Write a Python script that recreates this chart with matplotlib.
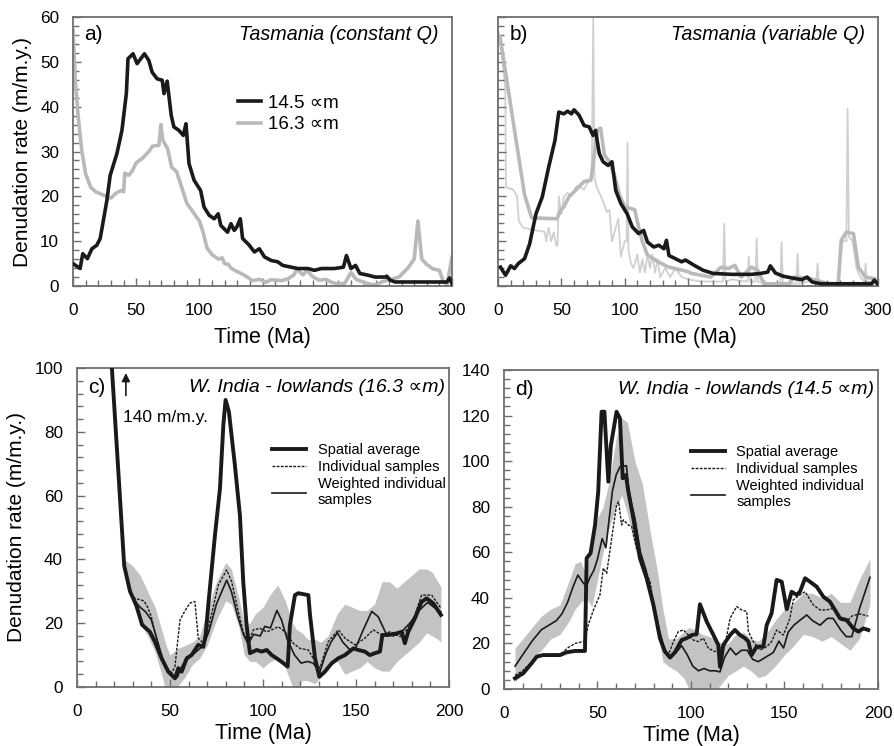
import numpy as np
from matplotlib import pyplot as plt
from matplotlib.ticker import MultipleLocator

plt.rcParams['font.family'] = ['Liberation Sans', 'DejaVu Sans']

# --- a) Tasmania, constant Q ---
a_t_145 = [0, 5.6, 7.7, 11.4, 14.9, 18.8, 21.5, 24, 26.8, 29.4, 34.7, 38.7, 42.2, 43.5, 47.5,
           50.7, 56.5, 60, 62.6, 66.6, 70.6, 72, 74.5, 77.7, 79.8, 83.8, 87.3, 89.4, 91.8, 95.8,
           101, 103.7, 107.7, 111.7, 114.9, 117, 122.3, 125, 127.6, 129.7, 132.4, 134.2, 139.5,
           143.5, 147.5, 151.5, 156.8, 162, 166, 172.7, 178, 186, 191, 196.5, 207, 214, 216.4,
           220, 223.6, 227, 233.7, 239, 247, 248.3, 251, 255, 273.5, 296, 298, 300]
a_v_145 = [5.0, 3.9, 7.2, 6.1, 8.3, 9.1, 10.6, 14.6, 19.1, 24.7, 29.5, 34.7, 42.9, 50.7, 51.8,
           49.6, 51.8, 50.3, 47.7, 46.2, 45.9, 42.9, 45.7, 38.1, 35.5, 34.7, 33.6, 36.2, 27.3, 23.6,
           21.3, 17.6, 15.8, 15.0, 16.1, 13.5, 12.0, 13.9, 12.4, 13.2, 15.0, 10.6, 9.1,
           7.6, 8.3, 6.5, 5.7, 5.4, 4.6, 4.2, 3.9, 3.9, 3.5, 3.9, 3.9, 4.2, 6.8,
           3.9, 4.6, 2.8, 2.4, 2.0, 2.0, 2.2, 1.3, 0.9, 0.9, 0.9, 1.8, 0.5]

a_t_163 = [0, 2, 4, 7, 10, 14, 18, 24, 30, 34, 38, 40, 41, 44, 47, 50, 55, 60, 63, 68, 69.5, 71,
           75, 78, 82, 86, 90, 95, 100, 103, 106, 110, 115, 118, 120, 123, 125, 128, 133, 138,
           142, 148, 152, 157, 165, 170, 175, 177, 182, 185, 190, 195, 200, 205, 210, 215, 220,
           224, 230, 237, 240, 245, 252, 258, 265, 270, 273, 276, 280, 285, 290, 293, 296, 300]
a_v_163 = [57, 45, 38, 30, 25, 22, 21, 20.3, 19.6, 20.7, 21.3, 21.0, 25.2, 24.7, 25.7, 27.5, 28.5,
           30.0, 31.2, 31.4, 36.0, 32.6, 30.5, 26.5, 25.5, 22.0, 18.5, 16.5, 14.5, 12.0, 8.5, 7.0,
           6.0, 6.3, 5.0, 4.8, 4.0, 3.5, 2.8, 2.0, 1.2, 1.5, 0.8, 1.4, 1.2, 1.6, 2.5, 3.8, 2.5,
           3.5, 2.0, 1.3, 1.5, 0.8, 0.5, 0.6, 3.0, 1.5, 0.8, 0.3, 0.3, 1.0, 1.5, 2.0, 4.0, 6.0,
           14.5, 6.0, 4.8, 3.8, 3.5, 1.0, 0.3, 6.5]

# --- b) Tasmania, variable Q ---
b_t_145 = [2, 6, 10, 13, 16, 21, 25, 30, 35, 40, 45, 48, 52, 55, 58, 60, 64, 68, 72, 75, 77, 80,
           83, 87, 90, 93, 97, 102, 106, 111, 115, 118, 123, 127, 131, 133, 135, 140, 145, 148,
           155, 162, 170, 185, 200, 207, 213, 215, 219, 225, 232, 240, 244, 248, 255, 295, 297, 300]
b_v_145 = [4.2, 2.4, 4.5, 3.9, 5.0, 6.1, 9.4, 16.1, 19.9, 26.5, 32.5, 38.8, 38.4, 39.0, 38.4, 39.3,
           38.1, 35.8, 35.5, 33.6, 34.7, 29.5, 27.7, 26.9, 27.7, 21.3, 18.4, 16.1, 13.2, 11.7, 12.4,
           9.8, 8.7, 9.1, 8.3, 10.2, 6.8, 6.1, 5.4, 5.8, 4.6, 3.5, 2.8, 2.6, 2.6, 2.8, 3.1, 4.5,
           2.9, 2.2, 1.8, 1.4, 2.0, 0.9, 0.5, 0.5, 1.3, 0.4]

b_t_163 = [1.6, 21, 26.6, 46.5, 49, 52, 56, 60, 62.6, 68, 73.4, 78.6, 81, 84, 88, 92, 96, 100, 108,
           110, 114, 118, 126, 134, 150, 153, 168, 176, 182, 187, 192, 200, 205, 210, 230, 234,
           247, 261, 268.6, 271, 275, 280.6, 284.5, 290, 297.7, 300]
b_v_163 = [55.6, 20.3, 15.2, 15.0, 16.6, 17.7, 19.9, 21.0, 21.8, 23.3, 23.6, 34.8, 35.2, 29.2, 27.7,
           24.7, 20.3, 17.7, 17.0, 14.4, 9.9, 6.9, 5.5, 4.3, 3.2, 2.8, 2.0, 4.2, 3.9, 4.6, 2.0,
           4.2, 3.5, 0.5, 0.5, 2.0, 1.6, 0.5, 0.5, 10.2, 12.0, 11.7, 4.2, 2.0, 1.6, 0.5]

b_t_raw = [0, 2, 5, 5.8, 6.3, 12, 15, 16.5, 20, 30, 35, 37, 38, 40, 42, 44, 46, 47, 48, 50, 52, 55,
           58, 62, 65, 68, 72, 74, 75.2, 76.2, 78, 82, 86, 88, 90, 92, 95, 97, 100, 101.5, 102.3,
           103, 105, 107, 110, 112, 114, 116, 118, 120, 122, 124, 126, 128, 132, 136, 140, 145,
           150, 160, 170, 177.6, 178.6, 179.6, 185, 190, 197, 198, 199, 203.2, 204.2, 205.2, 210,
           215, 222.9, 223.9, 224.9, 230, 235.5, 236.5, 237.5, 245, 251.3, 252.3, 253.3, 260,
           268, 270, 272, 275, 276, 277, 280, 283, 286, 289.2, 290.2, 291.2, 295, 300]
b_v_raw = [57, 55, 46, 44, 22, 21.5, 20, 14.4, 13, 12.4, 12.2, 12, 10, 13, 10, 12, 9, 9, 20, 16, 20,
           20.8, 20, 22.3, 22, 21.5, 23.8, 24, 60, 24, 22, 19.5, 16.5, 17, 10, 12, 15, 6.5, 10, 10,
           32, 8, 5, 4, 7, 3, 6, 3, 7, 4, 7, 3, 6, 2, 4, 2, 4, 2, 1.5, 1, 1, 1, 13.9, 1, 1.5, 1.2,
           1, 6.5, 1, 1, 10.6, 1, 0.5, 0.5, 0.5, 9.8, 0.5, 0.5, 0.5, 7.2, 0.5, 1, 1, 5, 1, 0.8,
           0.5, 5, 10, 10, 39.5, 11, 10, 4, 2, 1, 5, 1, 1, 0.5]

# --- c) W. India lowlands 16.3 um ---
c_t_sp = [14.5, 25.4, 28.5, 32, 35, 39.2, 41.9, 45.5, 49.1, 52.7, 54.5, 56.3, 59, 61.6, 65.2, 67.9,
          69.2, 70.6, 74.2, 76.9, 78.7, 79.9, 81.7, 84.9, 87.6, 89.4, 91.2, 93, 96.6, 99.3, 102,
          104.7, 107.3, 110, 113.3, 114.5, 117.2, 119, 124.4, 125.3, 128, 130.3, 133.3, 136.9,
          140.5, 144.1, 148.6, 151.3, 154.8, 157.5, 160.2, 162.9, 164.2, 167.4, 171.9, 174.6,
          176.3, 178.1, 181.7, 185.3, 188, 191.6, 195.7]
c_v_sp = [140, 38, 30, 25.5, 19.5, 17.3, 14.2, 9.0, 4.8, 2.7, 5.9, 4.8, 9.0, 10.0, 13.2, 12.6,
          16.3, 25.7, 47.6, 62.3, 82.1, 90.0, 86.3, 69.6, 53.9, 33, 19.4, 10.6, 11.6, 11.1, 11.6,
          10.0, 9.0, 7.9, 6.4, 19.4, 28.8, 29.4, 28.8, 22.6, 9.0, 3.2, 4.8, 7.4, 9.0, 10.0, 12.1,
          11.6, 11.1, 10.0, 10.6, 11.1, 16.3, 16.3, 16.8, 17.3, 13.7, 17.3, 21.5, 26.7, 27.8,
          26.2, 22.6]

c_t_ind = [25.4, 28, 30, 33, 36, 38, 40, 42, 45, 48, 51, 52.7, 55.4, 58, 60.7, 63.4, 65.2, 67.9,
           70.6, 76, 80.5, 83.2, 86.7, 89.4, 92.1, 94.8, 98.4, 102, 104.7, 108.2, 111.8, 116.3,
           119.9, 124.4, 126.5, 130.6, 135.1, 140.5, 144.1, 149.5, 154.8, 159.3, 163.8, 168.3,
           173.7, 178.1, 181.7, 185.3, 190.7, 195.7]
c_v_ind = [38, 32, 28, 27.5, 27, 25, 22, 17, 10, 6, 4.5, 6.5, 21, 23.8, 26.3, 26.8, 15.3, 13.7,
           18.4, 32, 36.7, 33, 23.8, 17.3, 13.7, 17.9, 18.4, 17.3, 17.9, 18.9, 17.3, 13.7, 12.1,
           11.6, 9.5, 5.9, 14.2, 17.9, 15.3, 13.2, 15.3, 17.9, 16.3, 17.3, 15.8, 18.4, 22.6, 28.8,
           28.8, 24.7]

c_t_w = [25.4, 28, 31, 34, 37, 40, 43, 46, 49, 52, 54, 56, 58, 62, 66, 68, 71, 75, 80.5, 83, 86.5,
         89.5, 92, 95, 98.5, 101, 104, 107.5, 110, 113, 117, 120.5, 124, 127, 130.5, 133.5, 136.5,
         140, 143, 147, 150, 154, 158.5, 162, 166, 170, 174, 179, 184, 188.5, 192, 195.7]
c_v_w = [38, 31, 27, 25, 23.5, 21, 15, 9, 5, 3.5, 3, 6, 8, 10, 12, 13, 17.5, 26, 33.5, 30, 22,
         16.5, 13.5, 16.5, 16.0, 19, 18.5, 24, 21, 15, 10, 7.5, 8, 7.5, 4.5, 10, 14, 17.0, 14,
         11.5, 12.5, 18, 23.7, 22, 17, 16, 17, 20, 24, 26.5, 25, 23.5]

c_t_band = [25.4, 30, 34, 38, 42, 46, 48, 50, 54, 58, 62, 66, 70, 75, 80, 83, 87, 90, 93, 96, 100,
            104, 108, 112, 116, 118, 121, 124, 128, 131, 135, 140, 144, 148, 152, 156, 160, 164,
            168, 172, 176, 180, 184, 188, 191, 194, 195.7]
c_band_hi = [40, 38, 35, 30, 25, 17, 13, 10, 12, 13, 14, 16, 24, 33, 39, 37, 28, 20, 20, 23, 25,
             29, 32, 27, 20, 18, 17, 15, 15, 14, 16, 23, 26, 25, 24, 24, 26, 33, 33, 31, 33, 35,
             37, 37, 36, 33, 31.5]
c_band_lo = [36, 26, 20, 16, 11, 3, -2, -1, 0, 3, 7, 9, 13, 21, 27, 26, 19, 10, 8, 8, 6, 8, 9, 6,
             0, -2, 2, 2, 1, 3, 7, 8, 4, 5, 6, 8, 6, 5, 5, 8, 10, 12, 14, 17, 16, 15, 14]

# --- d) W. India lowlands 14.5 um ---
d_t_sp = [5.9, 10.3, 14.8, 17.5, 21, 30, 33.5, 38, 43.3, 44.2, 46.3, 48.7, 50.4, 52.2, 53.7, 55.8,
          57.2, 60.2, 62, 63.5, 65.2, 66.5, 69.2, 72.7, 76.3, 79.9, 83.4, 86.1, 88.8, 91.4, 95,
          97.7, 100.4, 103, 104.8, 108.4, 112, 114.6, 115.5, 117.3, 120.9, 123.5, 126.2, 128.9,
          130.7, 132.4, 135.1, 138.7, 140.5, 143.1, 145.8, 148.5, 151.2, 153.8, 156.5, 158.3,
          161, 163.6, 167.2, 170.8, 174.3, 177, 179.7, 183.2, 186.8, 189.5, 192.2, 194.8]
d_v_sp = [4.7, 6.9, 11.3, 14.2, 14.9, 14.9, 16.1, 16.7, 16.7, 57.4, 59.6, 72.0, 86.6, 121.7, 121.7,
          91.0, 107.1, 121.7, 118.8, 92.5, 93.9, 86.6, 74.9, 57.4, 48.6, 36.9, 22.3, 16.4, 13.8,
          16.1, 21.5, 22.3, 23.7, 24.0, 37.2, 29.6, 23.7, 19.3, 9.8, 19.3, 23.7, 25.9, 23.7, 22.3,
          20.8, 14.9, 18.6, 18.6, 28.1, 33.2, 47.9, 47.1, 35.0, 42.7, 41.3, 42.7, 48.6, 47.1,
          44.9, 40.5, 38.3, 34.7, 31.0, 30.3, 26.6, 25.2, 26.6, 25.9]

d_t_ind = [5.9, 10, 15, 20, 30, 34, 38, 43.3, 45, 48, 51.3, 53.1, 54.9, 57.6, 60.2, 61.3, 62.9,
           63.8, 66.5, 68.3, 70.9, 74.5, 78.1, 81.6, 85.2, 87.9, 90.6, 93.2, 95.9, 98.6, 101.2,
           103.9, 106.6, 109.3, 112.8, 115.5, 118.2, 120.9, 124.4, 127.1, 129.8, 130.7, 133.3,
           136.9, 140.5, 143.1, 145.8, 149.4, 152.9, 154.7, 158.3, 161, 165.4, 169, 172.5, 176.1,
           179.7, 183.2, 186, 190, 194.8]
d_v_ind = [6, 8, 12, 15, 15, 18, 20, 21, 28, 35, 41.3, 53, 50.8, 66.1, 80.8, 82.2, 72.0, 74.2,
           72.0, 71.3, 61.7, 54.4, 47.1, 29.6, 17.9, 14.9, 20.8, 25.2, 25.9, 23.7, 21.5, 20.8,
           22.3, 17.9, 16.4, 17.9, 19.3, 31.0, 36.2, 34.7, 34.0, 25.2, 20.8, 17.1, 18.6, 20.8,
           25.9, 23.7, 31.0, 39.1, 41.3, 42.7, 36.9, 34.7, 34.7, 35.4, 30.3, 29.6, 32, 33, 32]

d_t_w = [5.9, 10, 15, 20, 24, 28, 31, 34, 37, 39.5, 42, 44, 46, 48, 50, 52.5, 54.5, 56, 58, 60,
         62, 65.5, 66.5, 68, 70, 73, 76, 80, 83, 86, 89, 92, 95, 98, 101, 104, 107, 110, 113,
         115.5, 118, 121, 124, 127, 130, 133, 136, 140, 144, 147, 149.5, 152, 155, 158, 161.9,
         165, 169, 173, 176, 180, 183, 186, 190, 195.7]
d_v_w = [10, 15, 21, 26, 28, 30, 33, 38, 45, 50, 47, 45, 49, 52, 57, 66, 62, 73, 87, 94, 97.5, 98,
         89, 82, 75, 60, 52, 38, 26, 17, 14, 16, 19, 15, 10, 8, 9, 8, 8, 7.5, 14, 18, 15, 17, 17,
         13, 12, 14, 16, 21, 18, 25, 28, 30, 32.5, 30, 28, 31, 31, 26, 23, 23, 35, 49]

d_t_band = [5.9, 10, 15, 20, 25, 30, 35, 38, 41, 44, 47, 50, 53, 56, 60, 63, 66, 70, 74, 78, 82,
            85, 88, 92, 96, 99, 102, 106, 110, 114, 117, 120, 124, 128, 132, 136, 140, 145, 150,
            155, 160, 165, 170, 175, 180, 185, 190, 195.7]
d_band_hi = [18, 22, 27, 32, 35, 37, 48, 55, 56, 50, 68, 75, 80, 90, 110, 119, 117, 100, 90, 70,
             52, 35, 22, 22, 25, 27, 26, 24, 23, 21, 20, 20, 24, 25, 22, 21, 24, 30, 35, 38, 42,
             42, 40, 42, 38, 38, 48, 57]
d_band_lo = [3, 7, 13, 17, 22, 24, 30, 35, 38, 40, 36, 48, 60, 70, 80, 85, 77, 62, 52, 42, 25, 12,
             10, 8, 5, 0, -3, -2, 1, 0, 3, 6, 8, 10, 8, 5, 6, 10, 15, 19, 24, 23, 21, 23, 20, 17,
             22, 37]

BLACK = '#1a1a1a'
GREY = '#b9b9b9'
LIGHT = '#d0d0d0'
BAND = '#c3c3c3'
SPINE = '#6e6e6e'


def style_axes(ax, xmax, ymax, ymajor, yminor, lpad):
    ax.set_xlim(0, xmax)
    ax.set_ylim(0, ymax)
    ax.xaxis.set_major_locator(MultipleLocator(50))
    ax.xaxis.set_minor_locator(MultipleLocator(10))
    ax.yaxis.set_major_locator(MultipleLocator(ymajor))
    ax.yaxis.set_minor_locator(MultipleLocator(yminor))
    ax.tick_params(which='both', direction='in', color=SPINE, top=False, right=False,
                   labelsize=12.3, width=1)
    ax.tick_params(which='major', length=6)
    ax.tick_params(which='minor', length=4)
    ax.tick_params(axis='x', which='major', pad=12)
    ax.tick_params(axis='y', which='major', pad=10)
    for s in ax.spines.values():
        s.set_color(SPINE)
        s.set_linewidth(1.3)
    ax.set_xlabel('Time (Ma)', fontsize=15.5, labelpad=lpad)


fig = plt.figure(figsize=(8.95, 7.46), dpi=100)

ax_a = fig.add_axes([0.0816, 0.6166, 0.4235, 0.3606])
ax_b = fig.add_axes([0.5564, 0.6166, 0.4246, 0.3606])
ax_c = fig.add_axes([0.0860, 0.0791, 0.4156, 0.4276])
ax_d = fig.add_axes([0.5631, 0.0764, 0.4179, 0.4276])

# a)
ax_a.plot(a_t_163, a_v_163, color=GREY, lw=2.6, label='16.3 \u221dm', zorder=2)
ax_a.plot(a_t_145, a_v_145, color=BLACK, lw=2.6, label='14.5 \u221dm', zorder=3)
style_axes(ax_a, 300, 60, 10, 2, 7)
ax_a.set_ylabel('Denudation rate (m/m.y.)', fontsize=15, labelpad=6)
h, l = ax_a.get_legend_handles_labels()
ax_a.legend(h[::-1], l[::-1], frameon=False, loc='upper left', bbox_to_anchor=(0.39, 0.775),
            handlelength=1.25, handletextpad=0.35, labelspacing=0.25, fontsize=13.5)
ax_a.text(0.03, 0.935, 'a)', transform=ax_a.transAxes, fontsize=15, va='center')
ax_a.text(0.965, 0.935, 'Tasmania (constant Q)', transform=ax_a.transAxes, fontsize=14.2,
          style='italic', ha='right', va='center')

# b)
ax_b.plot(b_t_raw, b_v_raw, color=LIGHT, lw=1.3, zorder=1)
ax_b.plot(b_t_163, b_v_163, color=GREY, lw=2.6, zorder=2)
ax_b.plot(b_t_145, b_v_145, color=BLACK, lw=2.6, zorder=3)
style_axes(ax_b, 300, 60, 10, 2, 7)
ax_b.tick_params(axis='y', labelleft=False)
ax_b.text(0.03, 0.935, 'b)', transform=ax_b.transAxes, fontsize=15, va='center')
ax_b.text(0.965, 0.935, 'Tasmania (variable Q)', transform=ax_b.transAxes, fontsize=14.2,
          style='italic', ha='right', va='center')

# c)
ax_c.fill_between(c_t_band, c_band_lo, c_band_hi, color=BAND, lw=0, zorder=1)
ax_c.plot(c_t_ind, c_v_ind, color=BLACK, lw=1.0, ls=(0, (2, 1)), label='Individual samples',
          zorder=3)
ax_c.plot(c_t_w, c_v_w, color=BLACK, lw=1.2, label='Weighted individual\nsamples', zorder=3)
ax_c.plot(c_t_sp, c_v_sp, color=BLACK, lw=2.8, label='Spatial average', zorder=4)
style_axes(ax_c, 200, 100, 20, 4, 3)
ax_c.set_ylabel('Denudation rate (m/m.y.)', fontsize=15, labelpad=6)
ax_c.annotate('', xy=(26.3, 99.3), xytext=(26.3, 90.5),
              arrowprops=dict(arrowstyle='-|>', color=BLACK, lw=1.2, mutation_scale=12))
ax_c.text(24.5, 84.5, '140 m/m.y.', fontsize=12.5, va='center')
ax_c.text(0.03, 0.94, 'c)', transform=ax_c.transAxes, fontsize=15, va='center')
ax_c.text(0.99, 0.94, 'W. India - lowlands (16.3 \u221dm)', transform=ax_c.transAxes,
          fontsize=14, style='italic', ha='right', va='center')
h, l = ax_c.get_legend_handles_labels()
ax_c.legend([h[2], h[0], h[1]], [l[2], l[0], l[1]], frameon=False, loc='upper left',
            bbox_to_anchor=(0.49, 0.805), handlelength=2.3, handletextpad=0.8,
            labelspacing=0.2, fontsize=10.5)

# d)
ax_d.fill_between(d_t_band, d_band_lo, d_band_hi, color=BAND, lw=0, zorder=1)
ax_d.plot(d_t_ind, d_v_ind, color=BLACK, lw=1.0, ls=(0, (2, 1)), label='Individual samples',
          zorder=3)
ax_d.plot(d_t_w, d_v_w, color=BLACK, lw=1.2, label='Weighted individual\nsamples', zorder=3)
ax_d.plot(d_t_sp, d_v_sp, color=BLACK, lw=2.8, label='Spatial average', zorder=4)
style_axes(ax_d, 200, 140, 20, 4, 3)
ax_d.text(0.03, 0.94, 'd)', transform=ax_d.transAxes, fontsize=15, va='center')
ax_d.text(0.99, 0.94, 'W. India - lowlands (14.5 \u221dm)', transform=ax_d.transAxes,
          fontsize=14, style='italic', ha='right', va='center')
h, l = ax_d.get_legend_handles_labels()
ax_d.legend([h[2], h[0], h[1]], [l[2], l[0], l[1]], frameon=False, loc='upper left',
            bbox_to_anchor=(0.465, 0.805), handlelength=2.3, handletextpad=0.8,
            labelspacing=0.2, fontsize=10.5)

fig.savefig('out.png', dpi=100)
